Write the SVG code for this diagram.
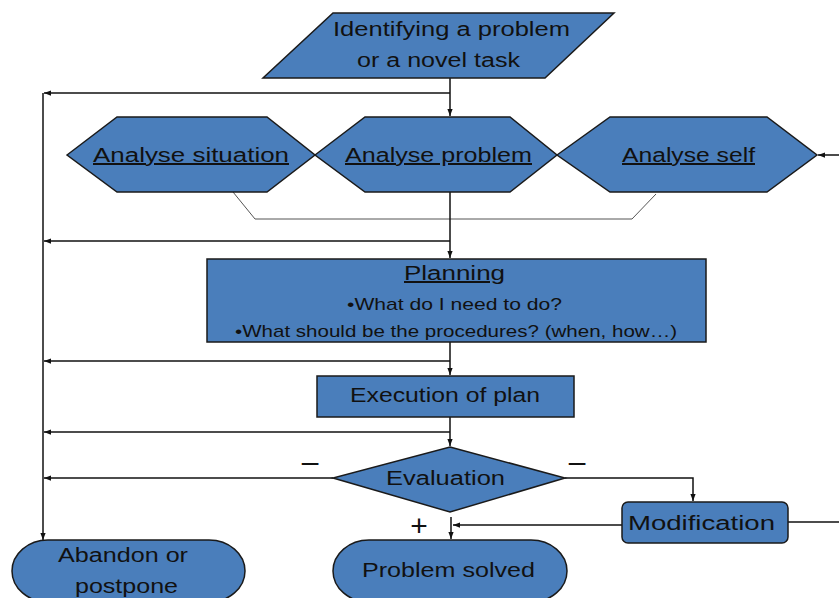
<svg xmlns="http://www.w3.org/2000/svg" width="839" height="598" viewBox="0 0 839 598">
<defs>
<marker id="ah" viewBox="0 0 8 8" refX="8" refY="4" markerWidth="7" markerHeight="7" markerUnits="userSpaceOnUse" orient="auto">
<path d="M0,1 L8,4 L0,7 z" fill="#111"/>
</marker>
<style>
.shape{fill:#4a7ebb;stroke:#1a1a1a;stroke-width:1.5}
.line{fill:none;stroke:#111;stroke-width:1.5}
.thin{fill:none;stroke:#555;stroke-width:1}
.t{font-family:"Liberation Sans",Arial,sans-serif;font-size:20px;fill:#111}
.s{font-family:"Liberation Sans",Arial,sans-serif;font-size:17px;fill:#111}
.sign{font-family:"Liberation Sans",Arial,sans-serif;font-size:30px;fill:#111}
.u{text-decoration:underline}
</style>
</defs>
<rect width="839" height="598" fill="#fff"/>

<g id="connectors">
<path class="line" d="M450,78 V116" marker-end="url(#ah)"/>
<path class="line" d="M450,93 H44" marker-end="url(#ah)"/>
<path class="line" d="M43,93 V540" marker-end="url(#ah)"/>
<path class="line" d="M839,155 H818" marker-end="url(#ah)"/>
<path class="thin" d="M233,192 L255,219 H632 L656,194"/>
<path class="line" d="M450,192 V258" marker-end="url(#ah)"/>
<path class="line" d="M450,241 H44" marker-end="url(#ah)"/>
<path class="line" d="M450,342 V375" marker-end="url(#ah)"/>
<path class="line" d="M450,361 H44" marker-end="url(#ah)"/>
<path class="line" d="M450,417 V446" marker-end="url(#ah)"/>
<path class="line" d="M450,432 H44" marker-end="url(#ah)"/>
<path class="line" d="M333,478 H44" marker-end="url(#ah)"/>
<path class="line" d="M565,478 H693 V501" marker-end="url(#ah)"/>
<path class="line" d="M451,517 V539" marker-end="url(#ah)"/>
<path class="line" d="M622,525 H453" marker-end="url(#ah)"/>
<path class="line" d="M788,522 H839"/>
<text class="sign" x="310" y="472" text-anchor="middle">–</text>
<text class="sign" x="577" y="472" text-anchor="middle">–</text>
<text class="sign" x="419" y="536" text-anchor="middle">+</text>
</g>

<g id="identify">
<polygon class="shape" points="333,13 614,13 545,78 263,78"/>
<text class="t" x="333" y="36" textLength="237" lengthAdjust="spacingAndGlyphs">Identifying a problem</text>
<text class="t" x="357" y="67" textLength="163" lengthAdjust="spacingAndGlyphs">or a novel task</text>
</g>

<g id="analyse-situation">
<polygon class="shape" points="67,155 117,117 267,117 315,155 267,192 117,192"/>
<text class="t u" x="93" y="162" textLength="196" lengthAdjust="spacingAndGlyphs">Analyse situation</text>
</g>

<g id="analyse-problem">
<polygon class="shape" points="315,155 365,117 510,117 557,155 510,192 365,192"/>
<text class="t u" x="345" y="162" textLength="187" lengthAdjust="spacingAndGlyphs">Analyse problem</text>
</g>

<g id="analyse-self">
<polygon class="shape" points="557,155 610,117 767,117 817,155 767,192 610,192"/>
<text class="t u" x="622" y="162" textLength="133" lengthAdjust="spacingAndGlyphs">Analyse self</text>
</g>

<g id="planning">
<rect class="shape" x="207" y="259" width="499" height="83"/>
<text class="t u" x="404" y="280" textLength="101" lengthAdjust="spacingAndGlyphs">Planning</text>
<text class="s" x="347" y="310" textLength="215" lengthAdjust="spacingAndGlyphs">•What do I need to do?</text>
<text class="s" x="235" y="337" textLength="442" lengthAdjust="spacingAndGlyphs">•What should be the procedures? (when, how…)</text>
</g>

<g id="execution">
<rect class="shape" x="317" y="376" width="257" height="41"/>
<text class="t" x="350" y="402" textLength="190" lengthAdjust="spacingAndGlyphs">Execution of plan</text>
</g>

<g id="evaluation">
<polygon class="shape" points="450,447 565,478 450,512 333,478"/>
<text class="t" x="386" y="485" textLength="119" lengthAdjust="spacingAndGlyphs">Evaluation</text>
</g>

<g id="modification">
<rect class="shape" x="622" y="502" width="166" height="41" rx="6" ry="6"/>
<text class="t" x="628" y="530" textLength="147" lengthAdjust="spacingAndGlyphs">Modification</text>
</g>

<g id="abandon">
<rect class="shape" x="12" y="540" width="233" height="62" rx="36" ry="31"/>
<text class="t" x="58" y="562" textLength="130" lengthAdjust="spacingAndGlyphs">Abandon or</text>
<text class="t" x="75" y="593" textLength="103" lengthAdjust="spacingAndGlyphs">postpone</text>
</g>

<g id="problem-solved">
<rect class="shape" x="333" y="540" width="234" height="62" rx="36" ry="31"/>
<text class="t" x="362" y="577" textLength="173" lengthAdjust="spacingAndGlyphs">Problem solved</text>
</g>
</svg>
